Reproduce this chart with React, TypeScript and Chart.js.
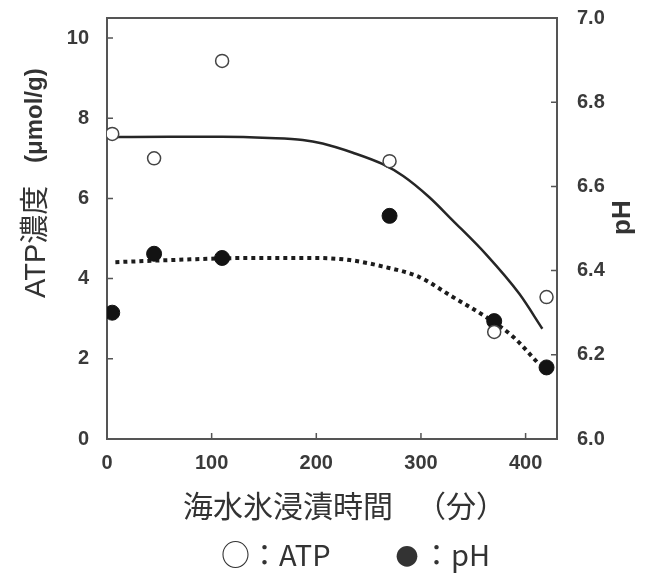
import React, { useEffect, useRef } from 'react';
import { Chart, registerables } from 'chart.js';

Chart.register(...registerables);

// ---- data ----
const immersionMinutes = [5, 45, 110, 270, 370, 420];
const atpValues = [7.61, 7.0, 9.43, 6.93, 2.67, 3.54];
const phValues = [6.3, 6.44, 6.43, 6.53, 6.28, 6.17];

const atpFitMinutes = [5, 60, 110, 155, 187, 206, 235, 263, 283, 308, 330, 362, 394, 416];
const atpFitValues = [7.53, 7.54, 7.54, 7.51, 7.46, 7.37, 7.14, 6.86, 6.56, 6.03, 5.46, 4.61, 3.62, 2.75];

const phFitMinutes = [8, 60, 136, 200, 232, 263, 298, 330, 362, 388, 412];
const phFitValues = [6.42, 6.425, 6.43, 6.43, 6.425, 6.41, 6.385, 6.338, 6.29, 6.243, 6.18];

const xTickValues = [0, 100, 200, 300, 400];
const atpTickValues = [0, 2, 4, 6, 8, 10];
const phTickValues = [6.0, 6.2, 6.4, 6.6, 6.8, 7.0];

const xAxisTitleMain = '海水氷浸漬時間';
const xAxisTitleUnit = '（分）';
const yAxisTitleMain = 'ATP濃度';
const yAxisTitleUnit = '(μmol/g)';
const y1AxisTitle = 'pH';
const legendAtpMark = '○';
const legendAtpText = '：ATP';
const legendPhMark = '●';
const legendPhText = '：pH';

const tickFont = { family: "'Liberation Sans', sans-serif", size: 20, weight: 'bold' as const };
const tickColor = '#3a3a3a';
const axisColor = '#555';

const decorPlugin = {
  id: 'decor',
  beforeDatasetsDraw(chart: any) {
    const { ctx, chartArea } = chart;
    const { left, right, top, bottom } = chartArea;
    ctx.save();
    ctx.strokeStyle = axisColor;
    ctx.lineWidth = 2;
    ctx.strokeRect(left, top, right - left, bottom - top);
    ctx.lineWidth = 1.5;
    const xs = chart.scales.x;
    const ys = chart.scales.y;
    const y1s = chart.scales.y1;
    ctx.beginPath();
    xTickValues.forEach((v) => {
      const px = xs.getPixelForValue(v);
      ctx.moveTo(px, bottom);
      ctx.lineTo(px, bottom - 6);
    });
    atpTickValues.forEach((v) => {
      const py = ys.getPixelForValue(v);
      ctx.moveTo(left, py);
      ctx.lineTo(left + 6, py);
    });
    phTickValues.forEach((v) => {
      const py = y1s.getPixelForValue(v);
      ctx.moveTo(right, py);
      ctx.lineTo(right - 6, py);
    });
    ctx.stroke();
    ctx.restore();
  },
  afterDraw(chart: any) {
    const { ctx } = chart;
    ctx.save();
    ctx.fillStyle = '#333';
    // x axis title
    ctx.textBaseline = 'middle';
    ctx.textAlign = 'left';
    ctx.font = "30px 'Noto Sans CJK JP', sans-serif";
    ctx.fillText(xAxisTitleMain, 183, 506);
    ctx.fillText(xAxisTitleUnit, 416, 506);
    // legend
    ctx.font = "29px 'Noto Sans CJK JP', sans-serif";
    ctx.fillText(legendAtpMark + legendAtpText, 221, 555);
    ctx.fillText(legendPhText, 422, 555);
    ctx.textAlign = 'center';
    ctx.font = "23px 'Noto Sans CJK JP', sans-serif";
    ctx.fillText(legendPhMark, 407, 556);
    ctx.textAlign = 'left';
    // left y title
    ctx.save();
    ctx.translate(45, 298);
    ctx.rotate(-Math.PI / 2);
    ctx.textBaseline = 'alphabetic';
    ctx.font = "29px 'Liberation Sans', 'Noto Sans CJK JP', sans-serif";
    ctx.fillText(yAxisTitleMain, 0, 0);
    ctx.font = "bold 24px 'Liberation Sans', sans-serif";
    ctx.fillText(yAxisTitleUnit, 135, -3);
    ctx.restore();
    // right y title
    ctx.save();
    ctx.translate(630, 235);
    ctx.rotate(-Math.PI / 2);
    ctx.textBaseline = 'alphabetic';
    ctx.font = "bold 26px 'Liberation Sans', sans-serif";
    ctx.fillText(y1AxisTitle, 0, 0);
    ctx.restore();
    ctx.restore();
  },
};

const zeroVerticalPadding = (s: any) => {
  s.paddingTop = 0;
  s.paddingBottom = 0;
};

export default function App() {
  const canvasRef = useRef<HTMLCanvasElement>(null);

  useEffect(() => {
    const canvas = canvasRef.current;
    if (!canvas) return;
    const chart = new Chart(canvas, {
      type: 'scatter',
      data: {
        datasets: [
          {
            label: 'ATP fit',
            data: atpFitMinutes.map((x, i) => ({ x, y: atpFitValues[i] })),
            yAxisID: 'y',
            showLine: true,
            pointRadius: 0,
            pointHoverRadius: 0,
            borderColor: '#262626',
            borderWidth: 2.5,
            cubicInterpolationMode: 'monotone',
            order: 3,
          } as any,
          {
            label: 'pH fit',
            data: phFitMinutes.map((x, i) => ({ x, y: phFitValues[i] })),
            yAxisID: 'y1',
            showLine: true,
            pointRadius: 0,
            pointHoverRadius: 0,
            borderColor: '#1c1c1c',
            borderWidth: 4,
            borderDash: [4, 4],
            borderCapStyle: 'butt',
            cubicInterpolationMode: 'monotone',
            order: 4,
          } as any,
          {
            label: 'ATP',
            data: immersionMinutes.map((x, i) => ({ x, y: atpValues[i] })),
            yAxisID: 'y',
            pointRadius: 6.5,
            pointBackgroundColor: '#ffffff',
            pointBorderColor: '#444',
            pointBorderWidth: 1.5,
            order: 1,
          } as any,
          {
            label: 'pH',
            data: immersionMinutes.map((x, i) => ({ x, y: phValues[i] })),
            yAxisID: 'y1',
            pointRadius: 7.5,
            pointBackgroundColor: '#131313',
            pointBorderColor: '#131313',
            pointBorderWidth: 1,
            order: 2,
          } as any,
        ],
      },
      options: {
        responsive: true,
        maintainAspectRatio: false,
        animation: false,
        events: [],
        layout: { padding: { top: 18, left: 0, right: 0, bottom: 0 } },
        plugins: {
          legend: { display: false },
          tooltip: { enabled: false },
        },
        scales: {
          x: {
            type: 'linear',
            position: 'bottom',
            min: 0,
            max: 430,
            afterBuildTicks: (s: any) => {
              s.ticks = xTickValues.map((v) => ({ value: v }));
            },
            afterFit: (s: any) => {
              s.height = 138;
              s.paddingLeft = 0;
              s.paddingRight = 0;
            },
            grid: { display: false, drawTicks: false },
            border: { display: false },
            ticks: { padding: 12, font: tickFont, color: tickColor, maxRotation: 0, autoSkip: false },
          },
          y: {
            type: 'linear',
            position: 'left',
            min: 0,
            max: 10.5,
            afterBuildTicks: (s: any) => {
              s.ticks = atpTickValues.map((v) => ({ value: v }));
            },
            afterFit: (s: any) => {
              s.width = 107;
              zeroVerticalPadding(s);
            },
            grid: { display: false, drawTicks: false },
            border: { display: false },
            ticks: { padding: 18, font: tickFont, color: tickColor, autoSkip: false },
          },
          y1: {
            type: 'linear',
            position: 'right',
            min: 6.0,
            max: 7.0,
            afterBuildTicks: (s: any) => {
              s.ticks = phTickValues.map((v) => ({ value: v }));
            },
            afterFit: (s: any) => {
              s.width = 89;
              zeroVerticalPadding(s);
            },
            grid: { display: false, drawTicks: false },
            border: { display: false },
            ticks: {
              padding: 20,
              font: tickFont,
              color: tickColor,
              autoSkip: false,
              callback: (v: any) => Number(v).toFixed(1),
            },
          },
        },
      },
      plugins: [decorPlugin],
    });
    return () => chart.destroy();
  }, []);

  return (
    <div style={{ position: 'fixed', left: 0, top: 0, width: 646, height: 577, background: '#fff' }}>
      <canvas ref={canvasRef} />
    </div>
  );
}
